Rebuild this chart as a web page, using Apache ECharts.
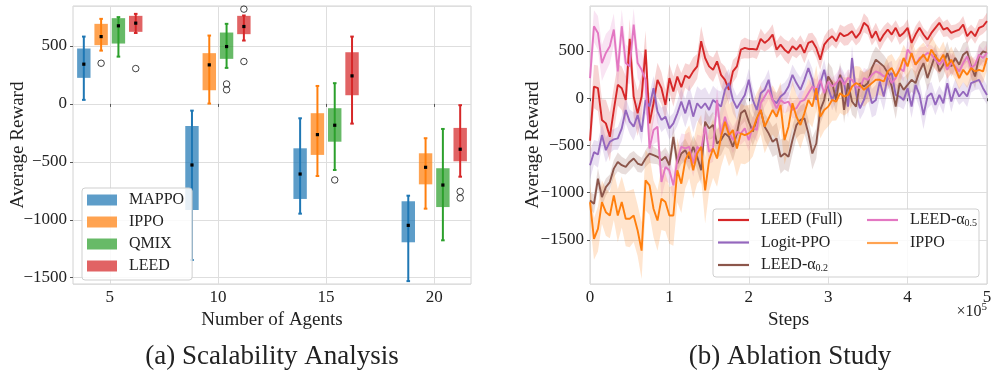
<!DOCTYPE html>
<html>
<head>
<meta charset="utf-8">
<script src="https://cdn.jsdelivr.net/npm/echarts@6/dist/echarts.min.js"></script>
<style>
html, body { margin: 0; padding: 0; background: #fff; }
#main { width: 997px; height: 386px; }
</style>
</head>
<body>
<div id="main"></div>
<script>
var FONT = '"Liberation Serif", "DejaVu Serif", serif';

// (a) scalability: one [min, q1, median, q3, max] per agent count
var agents = [5, 10, 15, 20];
var methods = ['MAPPO', 'IPPO', 'QMIX', 'LEED'];
var mappoBox = [[35, 225, 343, 478, 581], [-1347, -915, -527, -190, -58], [-947, -820, -605, -383, -124], [-1529, -1194, -1048, -840, -792]];
var ippoBox = [[460, 507, 581, 691, 734], [3, 118, 337, 438, 590], [-622, -440, -265, -80, 155], [-904, -694, -547, -426, -296]];
var qmixBox = [[408, 521, 674, 740, 749], [311, 389, 495, 616, 691], [-570, -326, -184, -37, 179], [-1177, -890, -700, -555, -216]];
var leedBox = [[612, 622, 697, 760, 777], [547, 602, 668, 760, 763], [-170, 75, 242, 446, 581], [-628, -495, -391, -207, -11]];
// outliers: [agents, reward]
var mappoFliers = [];
var ippoFliers = [[5, 351]];
var qmixFliers = [[10, 172], [10, 122], [15, -656]];
var leedFliers = [[5, 305], [10, 818], [10, 366], [20, -755], [20, -812]];

// (b) ablation: mean reward every 5000 steps, 0 .. 5e5
var leedFull = [-450,124,106,-230,-266,-408,-124,142,106,-18,628,18,-160,18,514,-266,-53,195,106,-71,
  213,71,230,117,240,213,284,337,603,426,337,301,390,248,195,89,284,337,514,532,
  521,521,514,628,585,620,674,514,567,514,479,550,514,567,479,585,603,532,408,567,
  620,656,603,691,656,674,709,638,691,798,762,638,709,603,674,727,674,745,656,691,
  745,585,674,745,674,620,691,745,798,727,745,691,709,727,780,656,709,656,745,762,815];
var logitPPO = [-709,-571,-596,-390,-550,-461,-436,-425,-319,-124,-248,-301,-177,-355,-18,-89,106,-142,-230,-195,
  -319,-266,-160,-35,-160,-18,-195,-53,-106,-53,-124,-18,-53,-89,89,160,-18,-106,-35,35,
  195,-18,-124,53,89,195,-18,-53,18,53,124,248,160,89,195,319,195,-18,160,301,
  106,-18,89,248,160,-89,426,53,-106,-18,124,-53,-18,177,18,230,266,35,18,-18,
  106,-89,142,35,-177,18,53,-71,35,-53,160,-35,106,18,71,18,160,177,195,106,35];
var leedA02 = [-1082,-1117,-851,-1046,-940,-887,-745,-674,-709,-727,-674,-638,-691,-709,-638,-585,-603,-620,-656,-620,
  -709,-408,-691,-585,-550,-638,-514,-620,-762,-248,-319,-284,-479,-443,-372,-408,-514,-372,-160,-124,
  -248,-355,-230,-124,-301,-372,-461,-426,-620,-585,-620,-443,-284,-230,-213,-372,-585,-479,-124,-18,
  230,160,-18,248,-124,160,-35,-89,160,124,160,319,408,372,337,266,124,-89,160,89,
  142,195,160,284,372,213,337,461,284,355,479,337,426,355,461,496,337,230,443,496,480];
var leedA05 = [213,762,691,372,479,550,727,284,762,372,337,780,372,301,195,-532,-337,-301,-887,-727,
  -763,-922,-656,-514,-532,-514,-691,-514,-550,-301,-567,-532,-18,-390,-195,-355,-443,-355,-372,-319,
  -443,-301,-337,-53,18,89,-18,-106,-18,-53,-35,-124,-106,-35,-18,53,124,89,195,53,
  177,124,160,213,142,213,195,124,106,213,195,248,284,266,230,248,160,213,319,284,
  514,461,355,426,443,479,461,408,355,408,301,372,337,284,372,443,319,355,461,426,479];
var ippoMean = [-1099,-1489,-1383,-1099,-1206,-1241,-1028,-1241,-1099,-1276,-1276,-1241,-1400,-1613,-869,-922,-1170,-1294,-1064,-1099,
  -1241,-1241,-762,-904,-656,-567,-762,-585,-514,-975,-656,-532,-638,-408,-248,-390,-337,-532,-372,-390,
  -372,-337,-213,-124,-301,-213,-124,-195,-71,-443,-301,-53,-195,-284,-160,-18,-89,106,-195,-124,
  -89,-18,-35,53,18,35,124,160,142,89,124,160,195,195,177,284,319,230,301,426,
  337,479,355,408,461,390,514,443,390,461,337,408,319,213,301,248,319,284,301,284,426];
// half width of the shaded band around each mean
var leedFullSpread = [180,230,240,220,250,260,240,220,230,250,210,220,240,230,200,220,190,180,170,160,
  150,160,140,150,130,140,150,130,160,140,120,130,120,130,140,150,120,110,100,110,
  100,90,100,110,90,100,110,90,100,110,120,100,90,100,110,100,90,100,110,90,
  100,90,80,90,100,110,90,80,90,100,90,80,90,100,90,80,90,80,90,80,
  90,80,90,80,70,80,90,80,70,80,90,80,70,80,90,80,70,80,90,80,90];
var logitPPOSpread = [150,130,140,120,130,120,110,120,130,140,130,150,140,130,150,140,130,120,130,120,
  120,110,130,140,150,160,170,180,190,170,160,150,140,160,170,150,140,130,120,110,
  120,130,110,100,120,110,100,110,120,110,100,110,120,130,110,100,120,110,100,110,
  100,110,120,100,110,120,130,110,120,130,140,150,160,170,150,140,130,120,110,100,
  110,120,130,140,150,130,120,110,100,110,120,110,100,90,100,110,100,90,100,110,100];
var leedA02Spread = [90,100,110,100,90,80,90,100,90,80,90,80,90,80,90,100,90,80,90,100,
  110,120,100,110,120,130,120,140,150,130,120,140,150,160,140,130,150,140,130,120,
  140,150,160,150,140,150,160,170,180,170,160,150,140,150,160,150,170,160,150,140,
  150,160,140,130,140,150,140,130,140,150,160,150,140,130,120,130,140,130,120,130,
  120,130,120,110,120,130,120,110,120,130,120,110,120,130,120,110,120,130,120,110,120];
var leedA05Spread = [200,170,180,190,200,180,170,190,180,200,190,170,160,180,170,160,150,160,170,150,
  140,150,130,140,150,160,140,130,150,140,130,140,150,130,120,130,140,130,120,130,
  120,110,120,130,110,100,110,120,100,110,100,90,100,110,100,90,100,110,100,90,
  100,90,100,110,100,90,100,90,100,110,100,90,100,90,100,110,100,90,100,110,
  100,90,100,110,100,90,100,110,100,90,100,110,100,90,100,110,100,90,100,90,100];
var ippoSpread = [200,220,240,230,250,240,260,280,270,290,300,280,270,300,320,310,300,320,330,310,
  300,320,340,310,300,280,300,320,340,350,330,310,300,320,340,330,310,300,320,310,
  300,280,270,260,280,270,260,250,240,260,250,240,230,250,240,230,220,240,230,220,
  210,220,200,210,200,190,200,180,190,180,170,180,170,160,170,160,150,160,150,140,
  150,140,150,140,130,140,150,140,130,140,130,140,130,120,130,140,130,120,130,120,130];

var steps = [];
for (var i = 0; i < leedFull.length; i++) steps.push(i * 5000);

var boxData = [mappoBox, ippoBox, qmixBox, leedBox];
var fliers = [mappoFliers, ippoFliers, qmixFliers, leedFliers];
var boxColors = ['#1f77b4', '#ff7f0e', '#2ca02c', '#d62728'];
var boxFills = ['rgba(31,119,180,0.72)', 'rgba(255,127,14,0.72)', 'rgba(44,160,44,0.72)', 'rgba(214,39,40,0.72)'];
var boxOffsets = [-1.2, -0.4, 0.4, 1.2];

var lineNames = ['LEED (Full)', 'Logit-PPO', 'LEED-α0.2', 'LEED-α0.5', 'IPPO'];
var lineData = [leedFull, logitPPO, leedA02, leedA05, ippoMean];
var lineSpread = [leedFullSpread, logitPPOSpread, leedA02Spread, leedA05Spread, ippoSpread];
var lineColors = ['#d62728', '#9467bd', '#8c564b', '#e377c2', '#ff7f0e'];
var bandColors = ['rgba(214,39,40,0.2)', 'rgba(148,103,189,0.2)', 'rgba(140,86,75,0.2)', 'rgba(227,119,194,0.2)', 'rgba(255,127,14,0.2)'];

function minus(v) { return String(v).replace('-', '\u2212'); }

function boxSeries(k) {
    var rows = boxData[k].map(function (b, i) { return [agents[i] + boxOffsets[k]].concat(b); });
    return {
        name: methods[k],
        type: 'custom',
        xAxisIndex: 0,
        yAxisIndex: 0,
        itemStyle: { color: boxFills[k] },
        encode: { x: 0, y: [1, 2, 3, 4, 5] },
        data: rows,
        renderItem: function (params, api) {
            var x = api.value(0);
            var pMin = api.coord([x, api.value(1)]);
            var pQ1 = api.coord([x, api.value(2)]);
            var pMed = api.coord([x, api.value(3)]);
            var pQ3 = api.coord([x, api.value(4)]);
            var pMax = api.coord([x, api.value(5)]);
            var w = api.size([0.62, 0])[0];
            var cx = pMed[0];
            var col = boxColors[k];
            return {
                type: 'group',
                children: [
                    { type: 'line', shape: { x1: cx, y1: pMax[1], x2: cx, y2: pMin[1] }, style: { stroke: col, lineWidth: 2 } },
                    { type: 'line', shape: { x1: cx - 1.8, y1: pMax[1], x2: cx + 1.8, y2: pMax[1] }, style: { stroke: col, lineWidth: 2 } },
                    { type: 'line', shape: { x1: cx - 1.8, y1: pMin[1], x2: cx + 1.8, y2: pMin[1] }, style: { stroke: col, lineWidth: 2 } },
                    { type: 'rect', shape: { x: cx - w / 2, y: pQ3[1], width: w, height: pQ1[1] - pQ3[1] }, style: { fill: boxFills[k] } },
                    { type: 'rect', shape: { x: cx - 1.6, y: pMed[1] - 1.6, width: 3.2, height: 3.2 }, style: { fill: '#000' } }
                ]
            };
        }
    };
}

function flierSeries(k) {
    return {
        type: 'scatter',
        xAxisIndex: 0,
        yAxisIndex: 0,
        symbol: 'circle',
        symbolSize: 6.5,
        silent: true,
        z: 5,
        itemStyle: { color: 'rgba(0,0,0,0)', borderColor: '#111', borderWidth: 1 },
        data: fliers[k].map(function (f) { return [f[0] + boxOffsets[k], f[1]]; })
    };
}

function bandSeries(k) {
    var mean = lineData[k], sp = lineSpread[k];
    var rows = steps.map(function (s, i) { return [s, mean[i] - sp[i], mean[i] + sp[i]]; });
    return {
        type: 'custom',
        xAxisIndex: 1,
        yAxisIndex: 1,
        silent: true,
        clip: true,
        z: 2,
        encode: { x: 0, y: [1, 2] },
        data: rows,
        renderItem: function (params, api) {
            if (params.dataIndex !== 0) return null;
            var pts = [];
            rows.forEach(function (r) { pts.push(api.coord([r[0], r[2]])); });
            for (var j = rows.length - 1; j >= 0; j--) pts.push(api.coord([rows[j][0], rows[j][1]]));
            return { type: 'polygon', shape: { points: pts }, style: { fill: bandColors[k] } };
        }
    };
}

function lineSeries(k) {
    return {
        name: lineNames[k],
        type: 'line',
        xAxisIndex: 1,
        yAxisIndex: 1,
        showSymbol: false,
        z: 3,
        color: lineColors[k],
        lineStyle: { width: 1.9, color: lineColors[k] },
        data: steps.map(function (s, i) { return [s, lineData[k][i]]; })
    };
}

var series = [];
for (var k = 0; k < 4; k++) series.push(boxSeries(k));
for (k = 0; k < 4; k++) series.push(flierSeries(k));
for (k = 0; k < 5; k++) series.push(bandSeries(k));
for (k = 0; k < 5; k++) series.push(lineSeries(k));

var nameFont = { fontFamily: FONT, fontSize: 19, color: '#222' };
var splitLine = { show: true, lineStyle: { color: '#dedede', width: 1 } };
var axisTick = { show: true, inside: false, length: 3, lineStyle: { color: '#555' } };

var legendText = {
    fontFamily: FONT, fontSize: 16, color: '#222', lineHeight: 15, padding: [0, 0, 0, 7],
    rich: { s: { fontFamily: FONT, fontSize: 10, color: '#222', padding: [7, 0, 0, 0] } }
};
function subFormatter(name) { return name.replace(/α(\d\.\d)/, 'α{s|$1}'); }

// reward axes: nice 500 steps inside fixed extents, end labels hidden
function rewardAxis(grid, lo, hi, gap) {
    return {
        type: 'value', gridIndex: grid, min: lo, max: hi, splitNumber: 5,
        name: 'Average Reward', nameLocation: 'middle', nameGap: gap, nameMoveOverlap: false, nameTextStyle: nameFont,
        axisLine: { show: false },
        axisTick: axisTick,
        axisLabel: { margin: 6, fontFamily: FONT, fontSize: 17, color: '#222', formatter: minus, showMinLabel: false, showMaxLabel: false },
        splitLine: splitLine
    };
}

var option = {
    backgroundColor: '#fff',
    animation: false,
    grid: [
        { left: 73, top: 6, width: 398, height: 278, show: true, borderColor: '#d2d2d2', borderWidth: 1 },
        { left: 590, top: 6, width: 397, height: 278, show: true, borderColor: '#d2d2d2', borderWidth: 1 }
    ],
    xAxis: [
        {
            type: 'value', gridIndex: 0, min: 3.3, max: 21.7,
            name: 'Number of Agents', nameLocation: 'middle', nameGap: 20, nameTextStyle: nameFont,
            axisLine: { show: false },
            axisTick: { show: true, length: 3, lineStyle: { color: '#555' }, customValues: agents },
            axisLabel: { customValues: agents, margin: 5, fontFamily: FONT, fontSize: 17, color: '#222' },
            splitLine: splitLine
        },
        {
            type: 'value', gridIndex: 1, min: 0, max: 500000, interval: 100000,
            name: 'Steps', nameLocation: 'middle', nameGap: 20, nameTextStyle: nameFont,
            axisLine: { show: false },
            axisTick: axisTick,
            axisLabel: { margin: 5, fontFamily: FONT, fontSize: 17, color: '#222', formatter: function (v) { return v / 100000; } },
            splitLine: splitLine
        }
    ],
    yAxis: [
        rewardAxis(0, -1554, 845, 45),
        rewardAxis(1, -1966, 976, 47)
    ],
    legend: [
        {
            data: methods, orient: 'vertical', left: 82, top: 188, icon: 'rect',
            itemWidth: 30, itemHeight: 11, itemGap: 6, padding: [4, 8, 6, 5],
            borderColor: '#cfcfcf', borderWidth: 1, borderRadius: 3, backgroundColor: 'rgba(255,255,255,0.85)',
            textStyle: legendText, z: 60
        },
        {
            data: lineNames.slice(0, 3), orient: 'vertical', left: 718, top: 212, icon: 'rect',
            itemWidth: 31, itemHeight: 2.2, itemGap: 6.5, padding: 0,
            textStyle: legendText, formatter: subFormatter, z: 60
        },
        {
            data: lineNames.slice(3), orient: 'vertical', left: 867, top: 212, icon: 'rect',
            itemWidth: 31, itemHeight: 2.2, itemGap: 6.5, padding: 0,
            textStyle: legendText, formatter: subFormatter, z: 60
        }
    ],
    graphic: [
        { type: 'rect', z: 50, shape: { x: 713, y: 209, width: 266, height: 68, r: 3 },
          style: { fill: 'rgba(255,255,255,0.85)', stroke: '#cfcfcf', lineWidth: 1 } },
        { type: 'text', z: 50, x: 987, y: 312,
          style: { text: '×10{s|5}', align: 'right', verticalAlign: 'middle', fontFamily: FONT, fontSize: 16, fill: '#222',
                   rich: { s: { fontFamily: FONT, fontSize: 11, fill: '#222', padding: [0, 0, 9, 0] } } } },
        { type: 'text', x: 272, y: 357,
          style: { text: '(a) Scalability Analysis', align: 'center', verticalAlign: 'middle', fontFamily: FONT, fontSize: 27, fill: '#222' } },
        { type: 'text', x: 790, y: 357,
          style: { text: '(b) Ablation Study', align: 'center', verticalAlign: 'middle', fontFamily: FONT, fontSize: 27, fill: '#222' } }
    ],
    series: series
};

var chartDom = document.getElementById('main');
var myChart = echarts.init(chartDom);
myChart.setOption(option);
</script>
</body>
</html>
